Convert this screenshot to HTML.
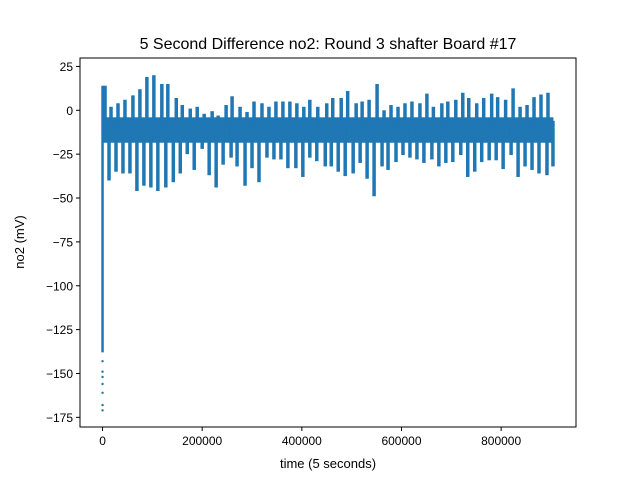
<!DOCTYPE html>
<html><head><meta charset="utf-8"><style>
body{margin:0;background:#fff}
svg text{font-family:"Liberation Sans","DejaVu Sans",sans-serif;fill:#000}
</style></head><body>
<svg id="chart" width="640" height="480" viewBox="0 0 640 480">
<rect width="640" height="480" fill="#fff"/>
<text x="328" y="49" font-size="16" text-anchor="middle">5 Second Difference no2: Round 3 shafter Board #17</text>
<g id="marks"></g>
<g id="axes"></g>
<text x="328" y="468" font-size="13" text-anchor="middle">time (5 seconds)</text>
<text transform="translate(24,242) rotate(-90)" font-size="13" text-anchor="middle">no2 (mV)</text>
</svg>
<script>
// times in thousands of 5-second samples
const upTimes=[5,17,31,45,61,75,89,103,119,131,148,160,176,190,204,220,232,248,260,276,290,304,320,334,348,362,376,390,404,416,432,450,462,479,492,509,521,535,551,565,579,593,607,621,637,651,664,681,693,709,723,735,751,765,781,793,809,824,838,852,866,880,894,904];
const upValues=[14,2,4,6,8.5,12,19,20,15,15,7,3,1,2,-2,-0.5,-3,3,8,2,-1,5,4,2,5,5,5,4,2,6,2,4,7,7,11,4,5,6,15,0,3,2,4,5,4,9.5,2,4,5,6,10,7,4,7,9.5,7.5,6,12.5,2,3,7.5,9,10,-6];
const downTimes=[13,27,41,55,69,83,97,111,127,142,156,170,184,200,214,228,242,258,270,286,300,314,330,344,358,372,388,402,416,430,447,459,473,487,503,517,531,545,561,573,589,603,617,631,645,661,675,689,703,719,733,747,761,776,790,804,820,834,848,862,876,892,904];
const downValues=[-40,-35,-36,-36,-46,-43,-44,-46,-44,-41,-36,-25,-34,-22,-37,-44,-31,-27,-32,-43,-33,-41,-27,-28,-28,-33,-33,-38,-27,-29,-32,-32,-35,-37.5,-36,-30,-39,-49,-32,-34,-29.5,-25.5,-27,-28,-30,-28,-32,-30,-29.5,-25.5,-38,-35,-29.5,-28.5,-28.5,-33.5,-25.5,-38,-32,-34,-36,-37,-32];
const baseBand=[-4,-18.5];
const startColumn=[14,-138];
const startDots=[-143,-149,-152,-156,-161,-168,-171];
const xTicks=[0,200000,400000,600000,800000];
const xTickLabels=["0","200000","400000","600000","800000"];
const yTicks=[25,0,-25,-50,-75,-100,-125,-150,-175];
const yTickLabels=["25","0","\u221225","\u221250","\u221275","\u2212100","\u2212125","\u2212150","\u2212175"];
const tMax=905;

const L=80,R=576,T=58,B=427;
const xMin=-45250,xMax=950250,yMin=-180.5,yMax=29.8;
const X=v=>L+(v-xMin)/(xMax-xMin)*(R-L);
const Y=v=>B-(v-yMin)/(yMax-yMin)*(B-T);
const NS="http://www.w3.org/2000/svg";
const marks=document.getElementById('marks');
const axes=document.getElementById('axes');
const C="#1f77b4";
function mk(tag,attrs,parent){const e=document.createElementNS(NS,tag);for(const k in attrs)e.setAttribute(k,attrs[k]);parent.appendChild(e);return e;}

let band=mk('rect',{x:X(0),y:Y(baseBand[0]),width:X(tMax*1000)-X(0),height:Y(baseBand[1])-Y(baseBand[0]),fill:C},marks);



let col=mk('line',{x1:X(0),x2:X(0),y1:Y(startColumn[0]),y2:Y(startColumn[1]),stroke:C,'stroke-width':2.5},marks);


startDots.forEach(v=>{
  const d=mk('circle',{cx:X(0),cy:Y(v),r:1.2,fill:C},marks);
  
  
});
upTimes.forEach((t,i)=>{
  const l=mk('line',{x1:X(t*1000),x2:X(t*1000),y1:Y(upValues[i]),y2:Y(-10),stroke:C,'stroke-width':3.5},marks);
  
  
});
downTimes.forEach((t,i)=>{
  const l=mk('line',{x1:X(t*1000),x2:X(t*1000),y1:Y(-10),y2:Y(downValues[i]),stroke:C,'stroke-width':3.5},marks);
  
  
});

let frame=mk('rect',{x:L,y:T,width:R-L,height:B-T,fill:'none',stroke:'#000','stroke-width':1},axes);


xTicks.forEach((v,i)=>{
  const x=X(v);
  const tk=mk('line',{x1:x,x2:x,y1:B,y2:B+4,stroke:'#000'},axes);
  
  
  const tx=mk('text',{x:x,y:B+18,'font-size':12,'text-anchor':'middle'},axes);
  tx.textContent=xTickLabels[i];
  
  
});
yTicks.forEach((v,i)=>{
  const y=Y(v);
  const tk=mk('line',{x1:L-4,x2:L,y1:y,y2:y,stroke:'#000'},axes);
  
  
  const tx=mk('text',{x:L-7,y:y+4.5,'font-size':12,'text-anchor':'end'},axes);
  tx.textContent=yTickLabels[i];
  
  
});
</script>
</body></html>
